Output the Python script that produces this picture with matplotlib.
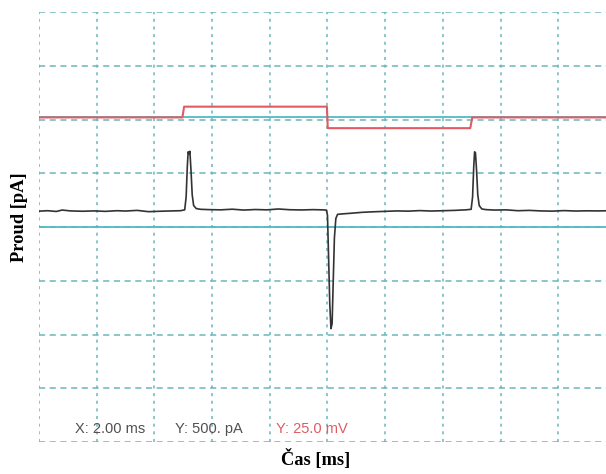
import matplotlib.pyplot as plt

# current trace [ms, pA]
t_ms = [0.0, 0.3, 0.6, 0.8, 1.1, 1.5, 1.9, 2.3, 2.7, 3.0, 3.4, 3.8, 4.2, 4.6, 4.9, 5.05,
        5.10, 5.14, 5.17, 5.20, 5.23, 5.27, 5.31, 5.36, 5.45, 5.6, 5.9, 6.3, 6.7, 7.1,
        7.5, 7.9, 8.3, 8.7, 9.1, 9.5, 9.8, 9.96, 10.0, 10.04, 10.08, 10.12, 10.16, 10.20,
        10.24, 10.29, 10.35, 10.5, 10.8, 11.2, 11.6, 12.0, 12.4, 12.8, 13.2, 13.6, 14.0,
        14.4, 14.8, 14.98, 15.03, 15.07, 15.10, 15.13, 15.17, 15.21, 15.26, 15.35, 15.5,
        15.8, 16.2, 16.6, 17.0, 17.4, 17.8, 18.2, 18.6, 19.0, 19.4, 19.8, 20.0]
i_pA = [148, 152, 145, 158, 150, 147, 150, 146, 152, 149, 155, 143, 147, 150, 152, 160,
        280, 560, 700, 680, 705, 520, 300, 200, 172, 165, 162, 160, 166, 158,
        163, 160, 168, 161, 159, 162, 160, 158, 110, -300, -720, -945, -900, -500,
        -100, 80, 118, 122, 128, 137, 142, 146, 150, 148, 153, 149, 152,
        155, 160, 165, 280, 560, 700, 690, 520, 300, 200, 168, 162,
        158, 160, 152, 155, 150, 148, 153, 149, 151, 150, 152, 150]

# command voltage [ms, mV]
v_ms = [0.0, 4.97, 5.03, 9.98, 10.01, 14.95, 15.02, 20.0]
v_mV = [0.0, 0.0, 5.0, 5.0, -5.0, -5.0, 0.0, 0.0]

x_ticks = [0, 2, 4, 6, 8, 10, 12, 14, 16, 18, 20]
y_ticks = [-2000, -1500, -1000, -500, 0, 500, 1000, 1500, 2000]

grid_col = '#6cb6ba'
zero_col = '#52bac6'

fig = plt.figure(figsize=(6.06, 4.74), dpi=100)
ax = fig.add_axes([0.0644, 0.0675, 0.952, 0.907])
ax.set_xlim(0, 20)
ax.set_ylim(-2000, 2000)
ax.set_xticks(x_ticks)
ax.set_yticks(y_ticks)
ax.tick_params(length=0, labelbottom=False, labelleft=False)
for s in ax.spines.values():
    s.set_visible(False)
ax.grid(axis='x', color=grid_col, ls=(0, (2, 3)), lw=1.1)
ax.grid(axis='y', color=grid_col, ls=(0, (4, 3)), lw=1.1)

# zero reference for current
ax.axhline(0, color=zero_col, lw=1.3, zorder=2)
ax.plot(t_ms, i_pA, color='#333333', lw=1.2, zorder=4)

ax2 = ax.twinx()
ax2.set_ylim(-151, 49)
ax2.set_yticks([])
for s in ax2.spines.values():
    s.set_visible(False)
ax2.axhline(0, color=zero_col, lw=1.3, zorder=2)
ax2.plot(v_ms, v_mV, color='#e25a62', lw=1.5, zorder=3)

ax.text(0.062, 0.03, 'X: 2.00 ms', transform=ax.transAxes, fontsize=10.5,
        color='#505050', family='Liberation Sans', va='center')
ax.text(0.236, 0.03, 'Y: 500. pA', transform=ax.transAxes, fontsize=10.5,
        color='#505050', family='Liberation Sans', va='center')
ax.text(0.411, 0.03, 'Y: 25.0 mV', transform=ax.transAxes, fontsize=10.5,
        color='#e25a62', family='Liberation Sans', va='center')

fig.text(0.033, 0.542, 'Proud [pA]', rotation=90, ha='center', va='center',
         fontsize=13.3, fontweight='bold', family='Liberation Serif')
fig.text(0.521, 0.032, 'Čas [ms]', ha='center', va='center',
         fontsize=13.3, fontweight='bold', family='Liberation Serif')

fig.savefig('out.png', dpi=100, facecolor='white')
